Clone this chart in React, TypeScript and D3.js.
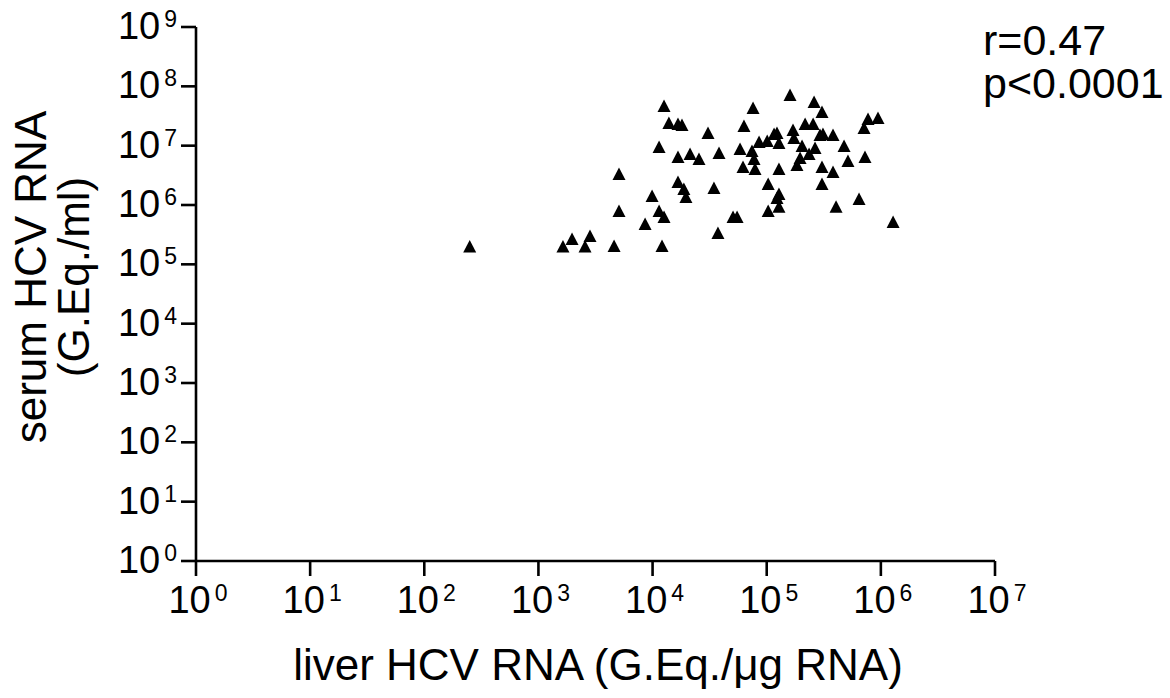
import React, { useEffect, useRef } from "react";
import * as d3 from "d3";

// liver HCV RNA (G.Eq./µg RNA) for each patient
const liverRNA = [
  2.5e2, 1.64e3, 1.97e3, 2.83e3, 2.56e3, 4.6e3, 1.21e4, 8.6e3, 5.08e3, 1.14e4,
  1.26e4, 9.9e3, 5.08e3, 1.67e4, 1.88e4, 1.96e4, 3.45e4, 3.74e4, 5.07e4, 5.5e4,
  1.26e4, 1.39e4, 1.67e4, 1.81e4, 3.06e4, 1.14e4, 1.67e4, 2.13e4, 2.55e4, 3.82e4,
  1.6e5, 2.6e5, 3.05e5, 7.59e4, 6.32e4, 7.72e5, 9.44e5, 7.12e5, 1.16e5, 1.23e5,
  1.7e5, 2.17e5, 2.55e5, 2.93e5, 3.11e5, 3.81e5, 8.57e4, 1.01e5, 1.28e5, 1.73e5,
  5.84e4, 7.43e4, 7.74e4, 2.04e5, 2.65e5, 2.35e5, 1.96e5, 1.84e5, 4.76e5, 5.15e5,
  7.26e5, 6.2e4, 7.9e4, 1.28e5, 3.05e5, 3.81e5, 1.03e5, 3.05e5, 1.28e5, 1.23e5,
  1.28e5, 1.03e5, 6.44e5, 4.05e5, 1.28e6,
];

// serum HCV RNA (G.Eq./ml), same order
const serumRNA = [
  2.0e5, 2.0e5, 2.67e5, 3.0e5, 2.0e5, 2.04e5, 2.04e5, 4.79e5, 7.9e5, 7.9e5,
  6.3e5, 1.42e6, 3.33e6, 2.44e6, 1.86e6, 1.36e6, 1.94e6, 3.38e5, 6.3e5, 6.3e5,
  4.67e7, 2.41e7, 2.32e7, 2.23e7, 1.64e7, 9.5e6, 6.45e6, 7.24e6, 5.97e6, 7.53e6,
  7.15e7, 5.45e7, 3.7e7, 4.32e7, 2.15e7, 2.82e7, 2.93e7, 1.99e7, 1.57e7, 1.64e7,
  1.84e7, 2.32e7, 2.32e7, 1.51e7, 1.57e7, 1.51e7, 1.15e7, 1.2e7, 1.11e7, 1.35e7,
  8.8e6, 8.13e6, 5.97e6, 9.9e6, 9.1e6, 7.24e6, 6.2e6, 4.72e6, 9.9e6, 5.52e6,
  6.45e6, 4.37e6, 4.05e6, 4.05e6, 4.37e6, 3.6e6, 2.26e6, 2.26e6, 1.53e6, 1.31e6,
  9.3e5, 7.9e5, 1.26e6, 9.3e5, 5.17e5,
];

const xExponents = [0, 1, 2, 3, 4, 5, 6, 7];
const yExponents = [0, 1, 2, 3, 4, 5, 6, 7, 8, 9];
const statLines = ["r=0.47", "p<0.0001"];

const FONT = "'Liberation Sans', Arial, sans-serif";

const App = () => {
  const svgRef = useRef<SVGSVGElement | null>(null);
  const width = 1170;
  const height = 698;

  useEffect(() => {
    const svg = d3.select(svgRef.current);
    svg.selectAll("*").remove();

    const x = d3.scaleLog().domain([1, 1e7]).range([196, 995]);
    const y = d3.scaleLog().domain([1, 1e9]).range([561, 27]);

    const axisColor = "#000";
    const g = svg.append("g");

    // eixos
    g.append("line")
      .attr("x1", x(1)).attr("x2", x(1e7))
      .attr("y1", y(1)).attr("y2", y(1))
      .attr("stroke", axisColor).attr("stroke-width", 2.6);
    g.append("line")
      .attr("x1", x(1)).attr("x2", x(1))
      .attr("y1", y(1e9)).attr("y2", y(1))
      .attr("stroke", axisColor).attr("stroke-width", 2.6);

    // ticks X
    xExponents.forEach((e) => {
      const px = x(Math.pow(10, e));
      g.append("line")
        .attr("x1", px).attr("x2", px)
        .attr("y1", y(1)).attr("y2", y(1) + 15)
        .attr("stroke", axisColor).attr("stroke-width", 2.6);
      const t = g.append("text")
        .attr("x", px + 2)
        .attr("y", 613)
        .attr("text-anchor", "middle")
        .style("font-family", FONT)
        .style("font-size", "38px");
      t.append("tspan").text("10");
      t.append("tspan").attr("dx", 4).attr("dy", -12).style("font-size", "23px").text(String(e));
    });

    // ticks Y
    yExponents.forEach((e) => {
      const py = y(Math.pow(10, e));
      g.append("line")
        .attr("x1", x(1) - 15).attr("x2", x(1))
        .attr("y1", py).attr("y2", py)
        .attr("stroke", axisColor).attr("stroke-width", 2.6);
      const t = g.append("text")
        .attr("x", 177)
        .attr("y", py + 12)
        .attr("text-anchor", "end")
        .style("font-family", FONT)
        .style("font-size", "38px");
      t.append("tspan").text("10");
      t.append("tspan").attr("dx", 4).attr("dy", -12).style("font-size", "23px").text(String(e));
    });

    // pontos (triângulos)
    const pts = liverRNA.map((v, i) => ({ lx: v, sy: serumRNA[i] }));
    g.selectAll("path.pt")
      .data(pts)
      .enter()
      .append("path")
      .attr("class", "pt")
      .attr("d", (d) => {
        const cx = x(d.lx);
        const cy = y(d.sy);
        return `M${cx},${cy - 6.5}L${cx + 6.5},${cy + 6}L${cx - 6.5},${cy + 6}Z`;
      })
      .attr("fill", "#000");

    // título eixo X
    g.append("text")
      .attr("x", 598)
      .attr("y", 680)
      .attr("text-anchor", "middle")
      .style("font-family", FONT)
      .style("font-size", "44px")
      .text("liver HCV RNA (G.Eq./\u03bcg RNA)");

    // título eixo Y (duas linhas)
    const yt = g.append("text")
      .attr("transform", "translate(46,277) rotate(-90)")
      .attr("text-anchor", "middle")
      .style("font-family", FONT)
      .style("font-size", "44px");
    yt.append("tspan").attr("x", 0).attr("y", 0).text("serum HCV RNA");
    yt.append("tspan").attr("x", 0).attr("y", 43).text("(G.Eq./ml)");

    // estatística
    statLines.forEach((s, i) => {
      g.append("text")
        .attr("x", 983)
        .attr("y", 55 + i * 43)
        .style("font-family", FONT)
        .style("font-size", "43px")
        .text(s);
    });
  }, []);

  return (
    <svg
      ref={svgRef}
      width={width}
      height={height}
      style={{ position: "absolute", left: 0, top: 0, background: "#fff" }}
    />
  );
};

export default App;
